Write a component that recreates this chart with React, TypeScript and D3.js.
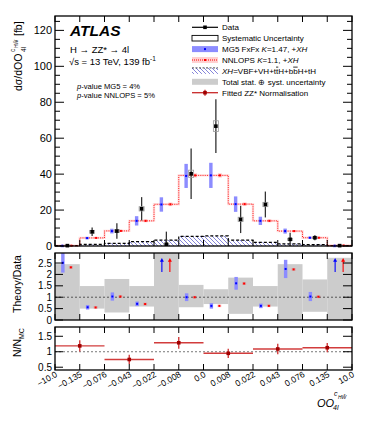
import React from "react";
import * as d3 from "d3";

const width = 374;
const height = 421;
const font = "'Liberation Sans', Arial, Helvetica, sans-serif";

// bin edges (equal width display)
const edgeLabels = ["−10.0", "−0.135", "−0.076", "−0.043", "−0.022", "−0.008", "0.0", "0.008", "0.022", "0.043", "0.076", "0.135", "10.0"];

// top panel, fb per unit
const dataVals = [0.2, 7.9, 8.3, 20.7, 1.0, 40.2, 66.7, 14.8, 23.1, 3.7, 4.6, 0.2];
const dataErr = [0.4, 2.4, 4.3, 6.5, 7, 14, 15, 7.6, 7.2, 3.7, 1.4, 0.4];
const dataSyst = [0.3, 0.8, 0.8, 1.2, 0.5, 2, 3, 1.2, 1.2, 0.6, 0.5, 0.3];
const mg5Vals = [0.2, 4.4, 8.3, 14, 23.1, 39, 39.3, 23.3, 14, 8.3, 4.6, 0.2];
const mg5Err = [0.2, 0.7, 1.3, 2.6, 4, 6.7, 7, 4.3, 2.3, 1.4, 0.6, 0.2];
const nnlopsVals = [0.2, 4.5, 8.4, 14, 23.2, 39.3, 39.3, 23.3, 14, 8.3, 4.6, 0.3];
const nnlopsErr = [0.2, 0.5, 0.6, 0.8, 1, 1.2, 1.2, 1, 0.8, 0.6, 0.5, 0.2];
const xhVals = [0.2, 0.9, 1.5, 2.4, 3.3, 5.4, 5.6, 3.3, 2, 1.2, 0.8, 0.2];

// middle panel, theory / data (null = off scale, arrow)
const ratioMg5 = [2.51, 0.56, 1.03, 0.71, null, 1.0, 0.62, 1.61, 0.62, 2.24, 1.03, null];
const ratioMg5Err = [0.43, 0.1, 0.18, 0.1, 0, 0.17, 0.12, 0.28, 0.1, 0.4, 0.2, 0];
const ratioNnlops = [2.31, 0.55, 1.03, 0.7, null, 1.0, 0.62, 1.6, 0.62, 2.22, 1.02, null];
const bandLo = [0, 0.5, 0.33, 0.59, 0, 0.56, 0.7, 0.27, 0.59, 0, 0.36, 0];
const bandHi = [2.45, 1.49, 1.8, 1.49, 2.94, 1.54, 1.35, 1.86, 1.49, 2.45, 1.78, 2.73];

// bottom panel, fitted ZZ* normalisation (each covers two bins)
const normVals = [1.19, 0.75, 1.29, 0.95, 1.09, 1.13];
const normErr = [0.18, 0.15, 0.19, 0.15, 0.17, 0.15];

const x = d3.scaleLinear().domain([0, 12]).range([55, 352]);
const yTop = d3.scaleLinear().domain([0, 128]).range([246, 16]);
const yMid = d3.scaleLinear().domain([0, 2.94]).range([320, 253]);
const yBot = d3.scaleLinear().domain([0.41, 1.8]).range([370, 327]);

const bins = d3.range(12);
const cx = (i: number) => x(i + 0.5);

const stepPts = (vals: number[]) => [...vals.map((v, i) => [i, v]), [12, vals[11]]] as [number, number][];

const Frame = ({ y0, y1 }: { y0: number; y1: number }) => (
  <g>
    {d3.range(13).map(i => (
      <g key={i}>
        <line x1={x(i)} x2={x(i)} y1={y0} y2={y0 + 6} stroke="#000" />
        <line x1={x(i)} x2={x(i)} y1={y1} y2={y1 - 6} stroke="#000" />
      </g>
    ))}
    <rect x={x(0)} y={y0} width={x(12) - x(0)} height={y1 - y0} fill="none" stroke="#000" strokeWidth={1.3} />
  </g>
);

export default function App() {
  const stepLine = d3.line<[number, number]>().x(d => x(d[0])).y(d => yTop(d[1])).curve(d3.curveStepAfter);
  const stepArea = d3.area<[number, number]>().x(d => x(d[0])).y0(yTop(0)).y1(d => yTop(d[1])).curve(d3.curveStepAfter);

  const legendRows = [
    "Data",
    "Systematic Uncertainty",
    "MG5",
    "NNLOPS",
    "XH",
    "Total stat. ⊕ syst. uncertainty",
    "Fitted ZZ* Normalisation"
  ];
  const ly = (i: number) => 27.3 + 10.9 * i;

  return (
    <svg width={width} height={height} style={{ position: "absolute", left: 0, top: 0, background: "#fff" }} fontFamily={font}>
      <defs>
        <pattern id="hatch" patternUnits="userSpaceOnUse" width={4} height={4}>
          <path d="M-1,3 L1,5 M0,0 L4,4 M3,-1 L5,1" stroke="#5050c8" strokeWidth={0.7} />
        </pattern>
      </defs>

      {/* ---------- top panel ---------- */}
      <path d={stepArea(stepPts(xhVals)) || ""} fill="url(#hatch)" />
      <path d={stepLine(stepPts(xhVals)) || ""} fill="none" stroke="#000" strokeWidth={1.2} strokeDasharray="3,2" />
      <path d={stepLine(stepPts(nnlopsVals)) || ""} fill="none" stroke="#ff0000" strokeOpacity={0.13} strokeWidth={2.4} />
      <path d={stepLine(stepPts(nnlopsVals)) || ""} fill="none" stroke="#ff0000" strokeWidth={0.9} strokeDasharray="1,1.2" />

      {bins.map(i => (
        <g key={i}>
          <rect x={cx(i) - 5 - 1.7} width={3.4} y={yTop(mg5Vals[i] + mg5Err[i])}
            height={Math.max(yTop(mg5Vals[i] - mg5Err[i]) - yTop(mg5Vals[i] + mg5Err[i]), 2)} fill="#8c8cff" />
          <rect x={cx(i) - 5 - 1} width={2} y={yTop(mg5Vals[i]) - 1} height={2} fill="#0000ff" />
          <rect x={cx(i) + 4 - 2} width={4} y={yTop(nnlopsVals[i] + nnlopsErr[i])}
            height={yTop(nnlopsVals[i] - nnlopsErr[i]) - yTop(nnlopsVals[i] + nnlopsErr[i])} fill="#ff0000" fillOpacity={0.2} />
          <rect x={cx(i) + 4 - 1} width={2} y={yTop(nnlopsVals[i]) - 1} height={2} fill="#ff0000" />
          <line x1={cx(i)} x2={cx(i)} y1={yTop(dataVals[i] + dataErr[i])} y2={yTop(Math.max(0, dataVals[i] - dataErr[i]))}
            stroke="#333" strokeWidth={1.3} />
          <rect x={cx(i) - 2.5} width={5} y={yTop(dataVals[i] + dataSyst[i])}
            height={yTop(dataVals[i] - dataSyst[i]) - yTop(dataVals[i] + dataSyst[i])} fill="none" stroke="#999" strokeWidth={0.8} />
          <rect x={cx(i) - 1.8} width={3.6} y={yTop(dataVals[i]) - 1.8} height={3.6} fill="#000" />
        </g>
      ))}

      {/* top axes */}
      {d3.range(0, 128, 5).map(v => {
        const major = v % 20 === 0;
        const len = major ? 9 : 5;
        return (
          <g key={v}>
            <line x1={x(0)} x2={x(0) + len} y1={yTop(v)} y2={yTop(v)} stroke="#000" />
            <line x1={x(12)} x2={x(12) - len} y1={yTop(v)} y2={yTop(v)} stroke="#000" />
          </g>
        );
      })}
      {yTop.ticks(7).map(v => (
        <text key={v} x={x(0) - 3} y={yTop(v) + 4} fontSize={11} textAnchor="end">{v}</text>
      ))}
      <Frame y0={16} y1={246} />

      <text x={70} y={36} fontSize={15.5} fontWeight="bold" fontStyle="italic">ATLAS</text>
      <text x={70} y={53} fontSize={9.5}>H → ZZ* → 4l</text>
      <text x={69} y={65} fontSize={9.5}>√s = 13 TeV, 139 fb<tspan dy={-4} fontSize={6.5}>-1</tspan></text>
      <text x={77} y={89} fontSize={7.6}><tspan fontStyle="italic">p</tspan>-value MG5 = 4%</text>
      <text x={77} y={97.5} fontSize={7.6}><tspan fontStyle="italic">p</tspan>-value NNLOPS = 5%</text>

      {/* legend */}
      <g>
        <line x1={192} x2={218} y1={ly(0)} y2={ly(0)} stroke="#000" strokeWidth={1.2} />
        <rect x={203.2} y={ly(0) - 1.8} width={3.6} height={3.6} fill="#000" />
        <rect x={192} y={ly(1) - 2.8} width={26} height={5.6} fill="#fff" stroke="#000" strokeWidth={0.9} />
        <rect x={192} y={ly(2) - 3} width={26} height={6} fill="#8c8cff" />
        <rect x={204} y={ly(2) - 1} width={2} height={2} fill="#0000ff" />
        <rect x={192} y={ly(3) - 3} width={26} height={6} fill="#ff0000" fillOpacity={0.18} />
        <line x1={192} x2={218} y1={ly(3)} y2={ly(3)} stroke="#ff0000" strokeDasharray="1,1" />
        <rect x={204} y={ly(3) - 1} width={2} height={2} fill="#ff0000" />
        <rect x={192} y={ly(4) - 3} width={26} height={6} fill="url(#hatch)" />
        <line x1={192} x2={218} y1={ly(4) - 3} y2={ly(4) - 3} stroke="#000" strokeDasharray="2,1.5" strokeWidth={0.7} />
        <rect x={192} y={ly(5) - 3} width={26} height={6} fill="#cccccc" />
        <line x1={192} x2={218} y1={ly(6)} y2={ly(6)} stroke="#c82828" strokeWidth={1.3} />
        <line x1={205} x2={205} y1={ly(6) - 3} y2={ly(6) + 3} stroke="#c82828" strokeWidth={1.3} />
        <rect x={203.2} y={ly(6) - 1.8} width={3.6} height={3.6} fill="#a00000" />
        {legendRows.map((t, i) => {
          const yy = ly(i) + 2.8;
          if (t === "MG5")
            return <text key={i} x={222} y={yy} fontSize={8}>MG5 FxFx <tspan fontStyle="italic">K</tspan>=1.47, +<tspan fontStyle="italic">XH</tspan></text>;
          if (t === "NNLOPS")
            return <text key={i} x={222} y={yy} fontSize={8}>NNLOPS <tspan fontStyle="italic">K</tspan>=1.1, +<tspan fontStyle="italic">XH</tspan></text>;
          if (t === "XH")
            return <text key={i} x={222} y={yy} fontSize={8}><tspan fontStyle="italic">XH</tspan>=VBF+VH+t<tspan textDecoration="overline">t</tspan>H+b<tspan textDecoration="overline">b</tspan>H+tH</text>;
          return <text key={i} x={222} y={yy} fontSize={8}>{t}</text>;
        })}
      </g>

      {/* y title top */}
      <g transform="translate(22,91) rotate(-90)">
        <text x={0} y={0} fontSize={10.5}>dσ/dOO</text>
        <text x={39} y={-7} fontSize={6.5}>c</text>
        <text x={43} y={-4} fontSize={5}>HW̃</text>
        <text x={39} y={4} fontSize={6.5}>4l</text>
        <text x={55} y={0} fontSize={10.5}>[fb]</text>
      </g>

      {/* ---------- middle panel ---------- */}
      {bins.map(i => (
        <rect key={i} x={x(i)} width={x(i + 1) - x(i)} y={yMid(bandHi[i])} height={yMid(bandLo[i]) - yMid(bandHi[i])} fill="#cccccc" />
      ))}
      <line x1={x(0)} x2={x(12)} y1={yMid(1)} y2={yMid(1)} stroke="#555" strokeDasharray="2,2" />
      {bins.map(i => {
        const m = ratioMg5[i];
        const n = ratioNnlops[i];
        if (m === null || n === null) {
          return (
            <g key={i}>
              {[[cx(i) - 4.5, "#0000ff"], [cx(i) + 3.5, "#ff0000"]].map(([px, c]) => (
                <g key={c as string}>
                  <line x1={px as number} x2={px as number} y1={yMid(2.11)} y2={yMid(2.62)} stroke={c as string} strokeWidth={1.1} />
                  <path d={`M${(px as number) - 2},${yMid(2.56)} L${px},${yMid(2.72)} L${(px as number) + 2},${yMid(2.56)} Z`} fill={c as string} />
                </g>
              ))}
            </g>
          );
        }
        return (
          <g key={i}>
            <rect x={cx(i) - 4.5 - 1.7} width={3.4} y={yMid(m + ratioMg5Err[i])} height={yMid(m - ratioMg5Err[i]) - yMid(m + ratioMg5Err[i])} fill="#8c8cff" />
            <rect x={cx(i) - 4.5 - 1} width={2} y={yMid(m) - 1} height={2} fill="#0000ff" />
            <rect x={cx(i) + 3.5 - 2} width={4} y={yMid(n + 0.06)} height={yMid(n - 0.06) - yMid(n + 0.06)} fill="#ff0000" fillOpacity={0.2} />
            <rect x={cx(i) + 3.5 - 1} width={2} y={yMid(n) - 1} height={2} fill="#ff0000" />
          </g>
        );
      })}
      {yMid.ticks(6).map(v => (
        <g key={v}>
          <line x1={x(0)} x2={x(0) + 8} y1={yMid(v)} y2={yMid(v)} stroke="#000" />
          <line x1={x(12)} x2={x(12) - 9} y1={yMid(v)} y2={yMid(v)} stroke="#000" />
          <text x={x(0) - 3} y={yMid(v) + 3.5} fontSize={10} textAnchor="end">{v}</text>
        </g>
      ))}
      <Frame y0={253} y1={320} />
      <text transform="translate(21,284) rotate(-90)" fontSize={10.5} textAnchor="middle">Theory/Data</text>

      {/* ---------- bottom panel ---------- */}
      <line x1={x(0)} x2={x(12)} y1={yBot(1)} y2={yBot(1)} stroke="#777" strokeDasharray="2,2" />
      {normVals.map((v, k) => (
        <g key={k}>
          <line x1={x(2 * k)} x2={x(2 * k + 2)} y1={yBot(v)} y2={yBot(v)} stroke="#d23c3c" strokeWidth={1.4} />
          <line x1={x(2 * k + 1)} x2={x(2 * k + 1)} y1={yBot(v + normErr[k])} y2={yBot(v - normErr[k])} stroke="#d23c3c" strokeWidth={1.4} />
          <rect x={x(2 * k + 1) - 1.8} y={yBot(v) - 1.8} width={3.6} height={3.6} fill="#a00000" />
        </g>
      ))}
      {yBot.ticks(3).map(v => (
        <g key={v}>
          <line x1={x(0)} x2={x(0) + 8} y1={yBot(v)} y2={yBot(v)} stroke="#000" />
          <line x1={x(12)} x2={x(12) - 9} y1={yBot(v)} y2={yBot(v)} stroke="#000" />
          <text x={x(0) - 3} y={yBot(v) + 3.5} fontSize={10} textAnchor="end">{v}</text>
        </g>
      ))}
      <Frame y0={327} y1={370} />
      <g transform="translate(21,343) rotate(-90)">
        <text x={-14} y={0} fontSize={10.5}>N/N</text>
        <text x={4} y={3} fontSize={7}>MC</text>
      </g>

      {/* x tick labels */}
      {edgeLabels.map((t, i) => (
        <text key={i} transform={`translate(${x(i) + 3},376) rotate(-30)`} fontSize={8.6} textAnchor="end">{t}</text>
      ))}

      {/* x title */}
      <text x={317} y={406.5} fontSize={11} fontStyle="italic">OO</text>
      <text x={334} y={395.5} fontSize={7} fontStyle="italic">c</text>
      <text x={338} y={399} fontSize={5} fontStyle="italic">HW̃</text>
      <text x={333} y={410} fontSize={7} fontStyle="italic">4l</text>
    </svg>
  );
}
